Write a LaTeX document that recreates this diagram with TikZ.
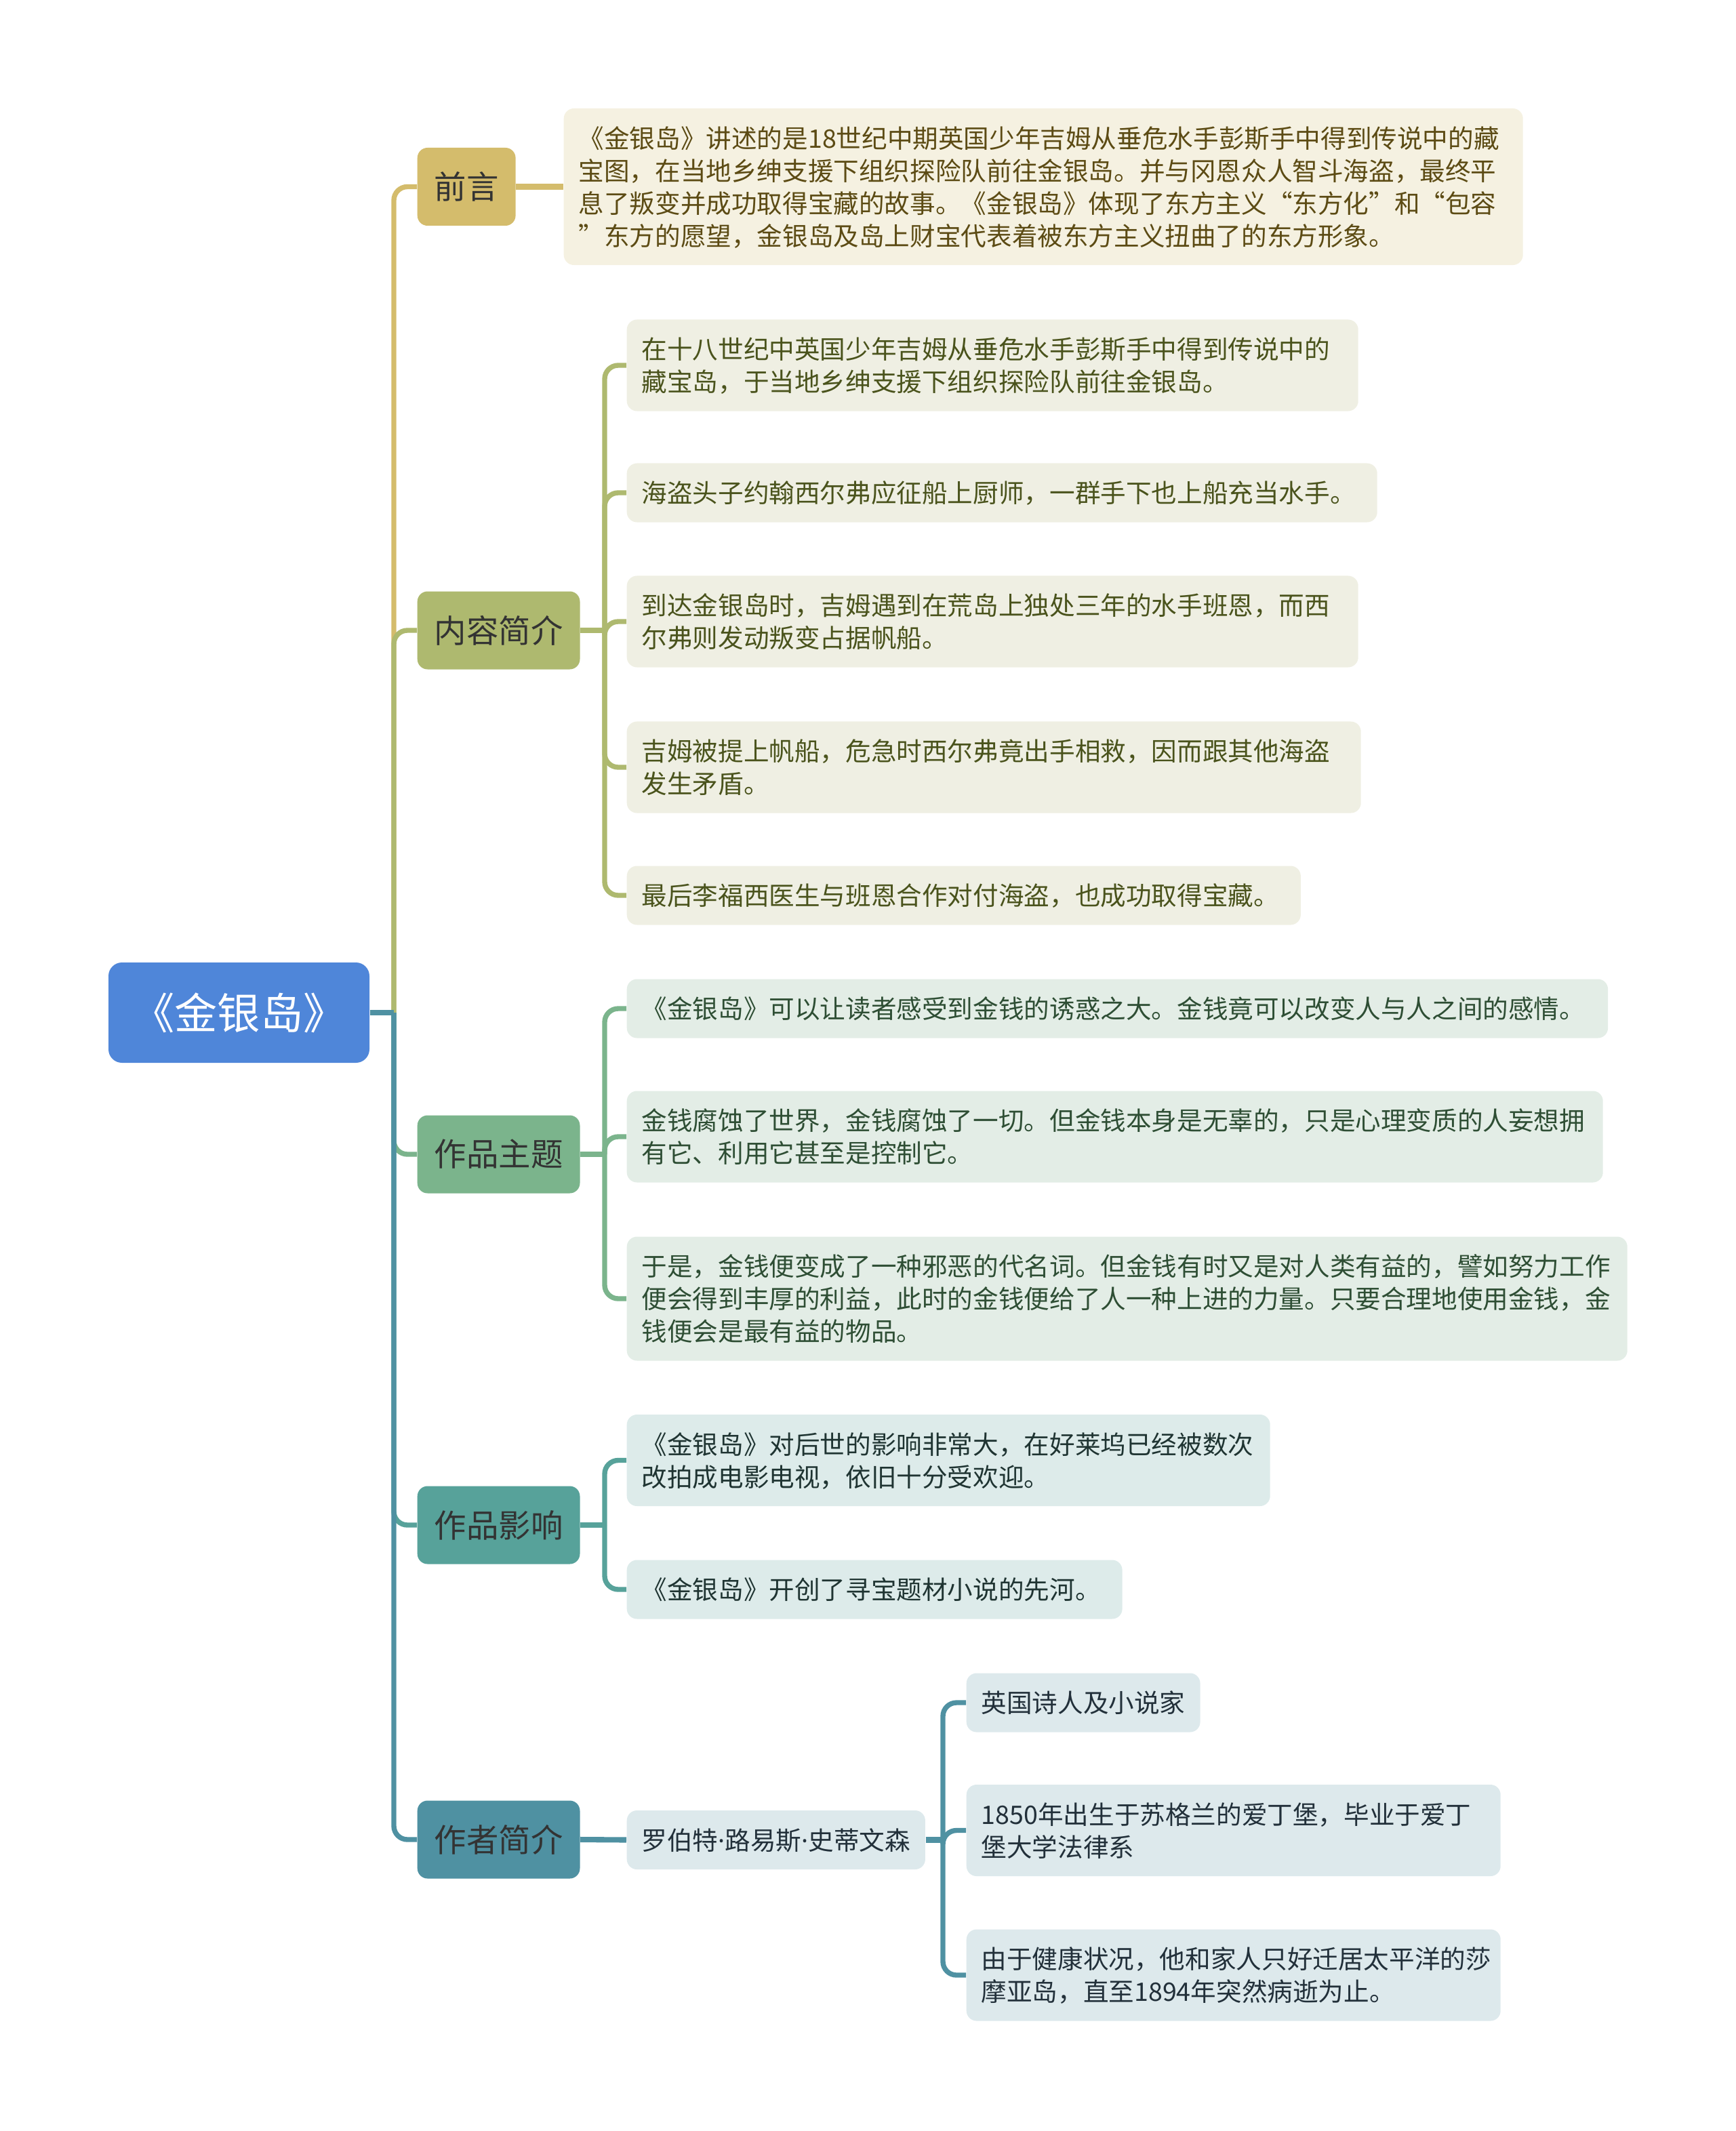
\documentclass[tikz,border=0pt]{standalone}
\usepackage{fontspec}
\setmainfont{Noto Sans CJK SC}
\newfontfamily\dotfont{Noto Sans}
\definecolor{rootblue}{HTML}{4F86D9}
\definecolor{mapgold}{HTML}{D4BC6C}
\definecolor{mapolive}{HTML}{AEB96F}
\definecolor{mapgreen}{HTML}{7BB48C}
\definecolor{mapteal}{HTML}{57A29A}
\definecolor{mapsteel}{HTML}{4F91A2}
\definecolor{goldbg}{HTML}{F5F1E1}
\definecolor{olivebg}{HTML}{EFEFE3}
\definecolor{greenbg}{HTML}{E3EDE6}
\definecolor{tealbg}{HTML}{DDEBEA}
\definecolor{steelbg}{HTML}{DDE9EC}
\definecolor{goldtext}{HTML}{5C4B14}
\definecolor{olivetext}{HTML}{4A531C}
\definecolor{greentext}{HTML}{2E4E34}
\definecolor{tealtext}{HTML}{1F3432}
\definecolor{steeltext}{HTML}{22303A}
\newcommand{\leafstrut}{\rule[-2.6pt]{0pt}{13.66pt}}
\newcommand{\mdot}{{\dotfont ·}}
\tikzset{
  topic/.style={fill=rootblue,text=white,rounded corners=0.2cm,minimum width=3.85cm,
    minimum height=1.48cm,font=\fontsize{18}{22}\selectfont},
  branch/.style={fill=#1,text=black!80,rounded corners=0.15cm,inner xsep=0.25cm,
    minimum height=1.15cm,anchor=west,font=\fontsize{13.5}{16}\selectfont},
  leaf/.style 2 args={fill=#1,text=#2,rounded corners=0.15cm,inner xsep=0.22cm,
    inner ysep=0.195cm,align=left,anchor=west,font=\fontsize{10.7}{13.66}\selectfont,
    execute at begin node=\leafstrut,execute at end node=\leafstrut},
  link/.style={draw=#1,line width=2.3pt},
  fork/.style={draw=#1,line width=2.1pt,rounded corners=0.2cm},
}

\begin{document}
\begin{tikzpicture}
\useasboundingbox (0,0) rectangle (25.6,-31.44);

\node[topic] (root) at (3.525,-14.94) {《金银岛》};

\node[branch=mapgold] (pre) at (6.15,-2.755) {前言};
\node[branch=mapolive] (nr) at (6.15,-9.30) {内容简介};
\node[branch=mapgreen] (zt) at (6.15,-17.03) {作品主题};
\node[branch=mapteal] (yx) at (6.15,-22.50) {作品影响};
\node[branch=mapsteel] (zz) at (6.15,-27.14) {作者简介};

\node[leaf={goldbg}{goldtext},text width=13.71cm] (pre1) at (8.31,-2.755) {《金银岛》讲述的是18世纪中期英国少年吉姆从垂危水手彭斯手中得到传说中的藏\\
宝图，在当地乡绅支援下组织探险队前往金银岛。并与冈恩众人智斗海盗，最终平\\
息了叛变并成功取得宝藏的故事。《金银岛》体现了东方主义“东方化”和“包容\\
”东方的愿望，金银岛及岛上财宝代表着被东方主义扭曲了的东方形象。};

\node[leaf={olivebg}{olivetext},text width=10.35cm] (nr1) at (9.24,-5.39) {在十八世纪中英国少年吉姆从垂危水手彭斯手中得到传说中的\\藏宝岛，于当地乡绅支援下组织探险队前往金银岛。};
\node[leaf={olivebg}{olivetext}] (nr2) at (9.24,-7.27) {海盗头子约翰西尔弗应征船上厨师，一群手下也上船充当水手。\hspace{0.1cm}};
\node[leaf={olivebg}{olivetext},text width=10.35cm] (nr3) at (9.24,-9.17) {到达金银岛时，吉姆遇到在荒岛上独处三年的水手班恩，而西\\尔弗则发动叛变占据帆船。};
\node[leaf={olivebg}{olivetext},text width=10.39cm] (nr4) at (9.24,-11.32) {吉姆被提上帆船，危急时西尔弗竟出手相救，因而跟其他海盗\\发生矛盾。};
\node[leaf={olivebg}{olivetext}] (nr5) at (9.24,-13.21) {最后李福西医生与班恩合作对付海盗，也成功取得宝藏。\hspace{0.1cm}};

\node[leaf={greenbg}{greentext}] (zt1) at (9.24,-14.88) {《金银岛》可以让读者感受到金钱的诱惑之大。金钱竟可以改变人与人之间的感情。\hspace{0.12cm}};
\node[leaf={greenbg}{greentext},text width=13.96cm] (zt2) at (9.24,-16.77) {金钱腐蚀了世界，金钱腐蚀了一切。但金钱本身是无辜的，只是心理变质的人妄想拥\\有它、利用它甚至是控制它。};
\node[leaf={greenbg}{greentext},text width=14.32cm] (zt3) at (9.24,-19.16) {于是，金钱便变成了一种邪恶的代名词。但金钱有时又是对人类有益的，譬如努力工作\\便会得到丰厚的利益，此时的金钱便给了人一种上进的力量。只要合理地使用金钱，金\\钱便会是最有益的物品。};

\node[leaf={tealbg}{tealtext},text width=9.05cm] (yx1) at (9.24,-21.545) {《金银岛》对后世的影响非常大，在好莱坞已经被数次\\改拍成电影电视，依旧十分受欢迎。};
\node[leaf={tealbg}{tealtext}] (yx2) at (9.24,-23.45) {《金银岛》开创了寻宝题材小说的先河。\hspace{0.1cm}};

\node[leaf={steelbg}{steeltext}] (zz0) at (9.24,-27.145) {罗伯特\mdot 路易斯\mdot 史蒂文森};
\node[leaf={steelbg}{steeltext}] (zz1) at (14.25,-25.12) {英国诗人及小说家};
\node[leaf={steelbg}{steeltext},text width=7.44cm] (zz2) at (14.25,-27.005) {1850年出生于苏格兰的爱丁堡，毕业于爱丁\\堡大学法律系};
\node[leaf={steelbg}{steeltext},text width=7.44cm] (zz3) at (14.25,-29.14) {由于健康状况，他和家人只好迁居太平洋的莎\\摩亚岛，直至1894年突然病逝为止。};

\coordinate (hub) at (5.81,-14.94);
\draw[fork=mapgold] (hub) |- (pre.west);
\draw[fork=mapolive] (hub) |- (nr.west);
\draw[fork=mapgreen] (hub) |- (zt.west);
\draw[fork=mapteal] (hub) |- (yx.west);
\draw[fork=mapsteel] (hub) |- (zz.west);
\draw[link=mapsteel] (root.east) -- (hub);

\draw[link=mapgold] (pre.east) -- (pre1.west);

\coordinate (nrhub) at (8.92,-9.30);
\draw[link=mapolive] (nr.east) -- (nrhub);
\foreach \n in {nr1,nr2,nr3,nr4,nr5}
  \draw[fork=mapolive] (nrhub) |- (\n.west);

\coordinate (zthub) at (8.92,-17.03);
\draw[link=mapgreen] (zt.east) -- (zthub);
\foreach \n in {zt1,zt2,zt3}
  \draw[fork=mapgreen] (zthub) |- (\n.west);

\coordinate (yxhub) at (8.92,-22.50);
\draw[link=mapteal] (yx.east) -- (yxhub);
\foreach \n in {yx1,yx2}
  \draw[fork=mapteal] (yxhub) |- (\n.west);

\draw[link=mapsteel] (zz.east) -- (zz0.west);
\coordinate (zzhub) at (13.91,-27.145);
\draw[link=mapsteel] (zz0.east) -- (zzhub);
\foreach \n in {zz1,zz2,zz3}
  \draw[fork=mapsteel] (zzhub) |- (\n.west);
\end{tikzpicture}
\end{document}
